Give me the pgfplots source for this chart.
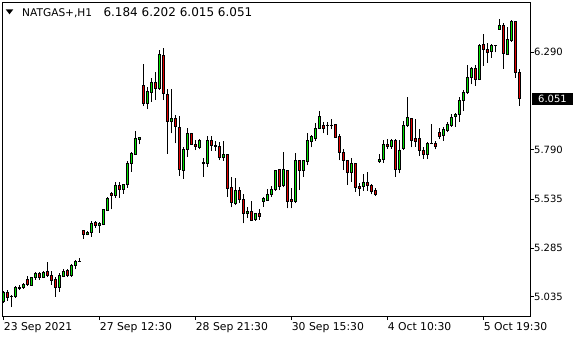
\documentclass[border=0pt]{standalone}
\usepackage{fontspec}
\setmainfont{DejaVu Sans}
\usepackage{pgfplots}
\usepackage{pgfplotstable}
\pgfplotsset{compat=1.18}
\definecolor{bull}{RGB}{0,225,0}
\definecolor{bear}{RGB}{225,0,0}

\pgfplotstableread{
i O H L C
0 5.010 5.064 5.003 5.059
1 5.056 5.069 5.014 5.032
2 5.037 5.042 4.981 5.035
3 5.035 5.090 5.030 5.083
4 5.076 5.095 5.069 5.083
5 5.083 5.107 5.076 5.099
6 5.124 5.143 5.090 5.097
7 5.095 5.138 5.090 5.135
8 5.133 5.163 5.121 5.152
9 5.152 5.163 5.121 5.133
10 5.135 5.169 5.130 5.160
11 5.167 5.212 5.135 5.143
12 5.145 5.169 5.094 5.117
13 5.121 5.138 5.035 5.083
14 5.083 5.158 5.061 5.146
15 5.141 5.176 5.135 5.167
16 5.169 5.176 5.135 5.143
17 5.143 5.203 5.138 5.193
18 5.193 5.224 5.176 5.218
19 5.217 5.232 5.217 5.218
20 5.374 5.378 5.333 5.353
21 5.356 5.374 5.350 5.367
22 5.366 5.422 5.343 5.412
23 5.414 5.424 5.389 5.400
24 5.402 5.419 5.364 5.410
25 5.407 5.487 5.402 5.484
26 5.477 5.545 5.474 5.540
27 5.566 5.571 5.484 5.554
28 5.554 5.623 5.543 5.607
29 5.607 5.623 5.543 5.588
30 5.588 5.615 5.564 5.609
31 5.612 5.734 5.595 5.720
32 5.718 5.780 5.677 5.768
33 5.766 5.886 5.763 5.847
34 5.843 5.854 5.818 5.854
35 6.121 6.230 6.014 6.026
36 6.026 6.110 5.999 6.088
37 6.085 6.157 6.037 6.136
38 6.136 6.189 6.047 6.102
39 6.102 6.302 6.097 6.280
40 6.276 6.311 6.045 6.080
41 6.076 6.102 5.769 5.936
42 5.936 6.100 5.874 5.951
43 5.951 5.968 5.823 5.908
44 5.905 5.963 5.655 5.686
45 5.682 5.805 5.640 5.792
46 5.792 5.900 5.754 5.871
47 5.871 5.877 5.813 5.818
48 5.819 5.840 5.788 5.805
49 5.800 5.843 5.792 5.835
50 5.723 5.746 5.651 5.717
51 5.717 5.860 5.703 5.835
52 5.835 5.860 5.785 5.811
53 5.814 5.835 5.785 5.805
54 5.809 5.831 5.737 5.749
55 5.749 5.835 5.734 5.763
56 5.763 5.763 5.549 5.592
57 5.597 5.648 5.494 5.518
58 5.515 5.643 5.506 5.579
59 5.579 5.597 5.515 5.535
60 5.532 5.562 5.412 5.463
61 5.461 5.497 5.438 5.475
62 5.475 5.528 5.425 5.427
63 5.429 5.466 5.425 5.463
64 5.463 5.484 5.429 5.446
65 5.523 5.549 5.497 5.537
66 5.528 5.587 5.528 5.561
67 5.561 5.604 5.546 5.587
68 5.587 5.686 5.579 5.681
69 5.686 5.689 5.583 5.600
70 5.605 5.777 5.597 5.686
71 5.681 5.686 5.489 5.523
72 5.532 5.592 5.489 5.525
73 5.523 5.772 5.515 5.732
74 5.732 5.737 5.583 5.682
75 5.682 5.737 5.651 5.732
76 5.728 5.874 5.711 5.835
77 5.831 5.866 5.802 5.857
78 5.849 5.926 5.836 5.900
79 5.900 5.990 5.895 5.963
80 5.912 5.934 5.874 5.900
81 5.915 5.934 5.866 5.912
82 5.912 5.946 5.895 5.915
83 5.917 5.917 5.854 5.854
84 5.860 5.869 5.737 5.775
85 5.775 5.792 5.686 5.734
86 5.734 5.737 5.609 5.672
87 5.672 5.746 5.626 5.720
88 5.720 5.723 5.574 5.595
89 5.600 5.617 5.554 5.592
90 5.600 5.665 5.578 5.623
91 5.623 5.674 5.578 5.605
92 5.604 5.614 5.561 5.574
93 5.578 5.592 5.554 5.561
94 5.728 5.766 5.723 5.742
95 5.741 5.840 5.723 5.818
96 5.819 5.843 5.794 5.805
97 5.809 5.845 5.794 5.835
98 5.835 5.845 5.651 5.686
99 5.686 5.840 5.669 5.788
100 5.794 5.937 5.788 5.912
101 5.912 6.059 5.908 5.956
102 5.951 5.954 5.802 5.836
103 5.845 5.948 5.805 5.831
104 5.849 5.896 5.759 5.785
105 5.788 5.805 5.741 5.766
106 5.766 5.830 5.741 5.823
107 5.821 5.920 5.819 5.823
108 5.823 5.836 5.792 5.805
109 5.879 5.900 5.845 5.857
110 5.862 5.908 5.836 5.896
111 5.888 5.931 5.879 5.920
112 5.913 5.972 5.908 5.956
113 5.960 5.977 5.908 5.973
114 5.973 6.062 5.934 6.045
115 6.042 6.097 5.990 6.085
116 6.083 6.225 6.076 6.162
117 6.160 6.216 6.126 6.205
118 6.205 6.225 6.119 6.153
119 6.152 6.331 6.148 6.323
120 6.328 6.384 6.221 6.306
121 6.306 6.337 6.237 6.290
122 6.293 6.331 6.263 6.323
123 6.326 6.326 6.290 6.323
124 6.408 6.461 6.405 6.430
125 6.430 6.439 6.205 6.285
126 6.280 6.419 6.276 6.357
127 6.350 6.456 6.345 6.451
128 6.447 6.453 6.160 6.184
129 6.184 6.202 6.015 6.051
}\candles

\begin{document}
\begin{tikzpicture}
\begin{axis}[
  scale only axis, width=527.7bp, height=313bp,
  xmin=-0.35, xmax=131.6, ymin=4.9359, ymax=6.5435,
  clip=false,
  axis line style={black, line width=1bp},
  xtick={0,24,48,72,96,120},
  xticklabels={23 Sep 2021, 27 Sep 12:30, 28 Sep 21:30, 30 Sep 15:30, 4 Oct 10:30, 5 Oct 19:30},
  ytick={5.035,5.285,5.535,5.79,6.29},
  yticklabels={5.035,5.285,5.535,5.790,6.290},
  xtick pos=left, ytick pos=right,
  tick align=outside, major tick length=4bp,
  tick style={black, line width=1bp},
  xticklabel style={anchor=north west, inner sep=0pt, yshift=-2bp, font=\fontsize{10.8bp}{12bp}\selectfont},
  yticklabel style={anchor=west, inner sep=0pt, font=\fontsize{10bp}{12bp}\selectfont},
]
\pgfplotstablegetrowsof{\candles}
\pgfmathtruncatemacro\N{\pgfplotsretval-1}
\pgfplotsforeachungrouped \r in {0,...,\N}{%
  \pgfplotstablegetelem{\r}{O}\of\candles \let\vO\pgfplotsretval
  \pgfplotstablegetelem{\r}{H}\of\candles \let\vH\pgfplotsretval
  \pgfplotstablegetelem{\r}{L}\of\candles \let\vL\pgfplotsretval
  \pgfplotstablegetelem{\r}{C}\of\candles \let\vC\pgfplotsretval
  \pgfplotstablegetelem{\r}{i}\of\candles \let\vi\pgfplotsretval
  \pgfmathsetmacro\xa{\vi-0.25}%
  \pgfmathsetmacro\xb{\vi+0.25}%
  \ifdim\vC pt<\vO pt \def\col{bear}\else\def\col{bull}\fi
  \edef\tmp{\noexpand\addplot[black, line width=1bp, forget plot] coordinates {(\vi,\vL) (\vi,\vH)};
    \noexpand\addplot[draw=black, fill=\col, line width=1bp, line cap=rect, forget plot] coordinates {(\xa,\vO) (\xb,\vO) (\xb,\vC) (\xa,\vC) (\xa,\vO)};}%
  \tmp
}
\node[fill=black, text=white, anchor=west, inner xsep=6bp, inner ysep=0pt, minimum height=12bp,
  font=\fontsize{10bp}{12bp}\selectfont, xshift=2bp] at (axis cs:131.6,6.051) {6.051};
\end{axis}
\fill[black] (3.4bp,306.7bp) -- (11bp,306.7bp) -- (7.2bp,301.7bp) -- cycle;
\node[anchor=base west, inner sep=0pt, font=\fontsize{10.6bp}{12bp}\selectfont] at (19.7bp,299.3bp) {NATGAS+,H1};
\node[anchor=base west, inner sep=0pt, font=\fontsize{12bp}{14bp}\selectfont] at (101bp,299.3bp) {6.184 6.202 6.015 6.051};
\pgfresetboundingbox
\path[use as bounding box] (-2.3bp,-24bp) rectangle (577.7bp,316bp);
\end{tikzpicture}
\end{document}
